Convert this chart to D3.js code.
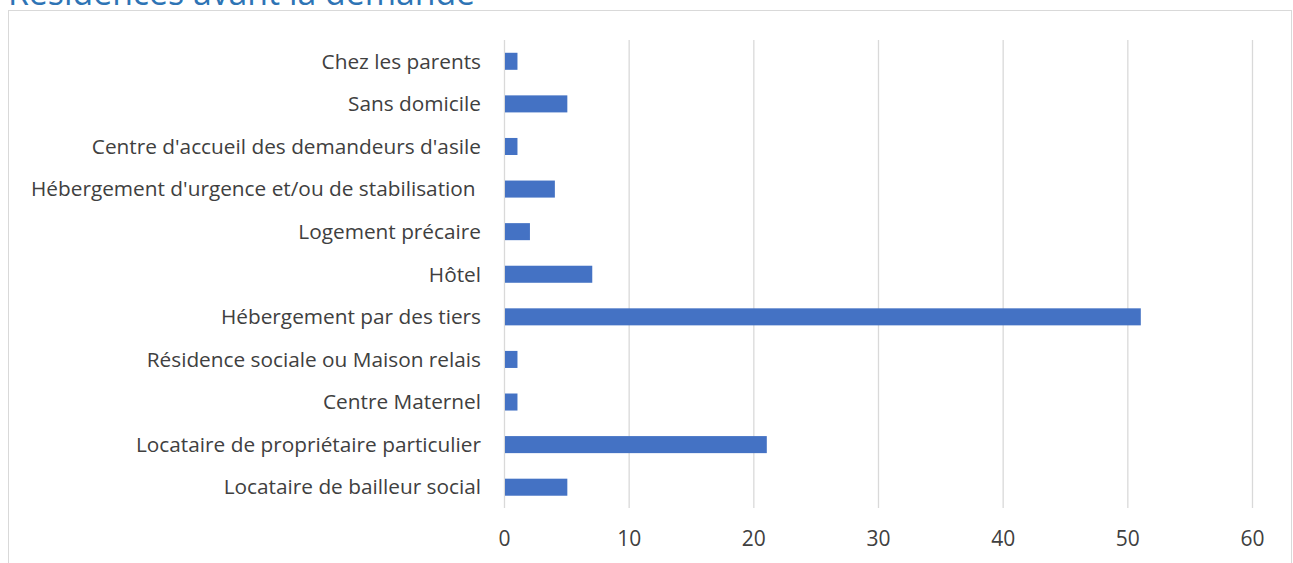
<!DOCTYPE html>
<html>
<head>
<meta charset="utf-8">
<script src="https://cdn.jsdelivr.net/npm/d3@7"></script>
<style>
  html, body { margin: 0; padding: 0; background: #fff; }
  svg { display: block; }
  text { font-family: "Open Sans", "Liberation Sans", sans-serif; white-space: pre; }
</style>
</head>
<body>
<svg id="chart" width="1293" height="563"></svg>
<script>
const categories = [
  "Chez les parents",
  "Sans domicile",
  "Centre d'accueil des demandeurs d'asile",
  "Hébergement d'urgence et/ou de stabilisation ",
  "Logement précaire",
  "Hôtel",
  "Hébergement par des tiers",
  "Résidence sociale ou Maison relais",
  "Centre Maternel",
  "Locataire de propriétaire particulier",
  "Locataire de bailleur social"
];
const values = [1, 5, 1, 4, 2, 7, 51, 1, 1, 21, 5];
const tickValues = [0, 10, 20, 30, 40, 50, 60];
const title = "Résidences avant la demande";

const svg = d3.select("#chart");

// chart border
svg.append("rect")
  .attr("x", 8.5).attr("y", 10.5)
  .attr("width", 1283).attr("height", 600)
  .attr("fill", "#fff")
  .attr("stroke", "#d9d9d9").attr("stroke-width", 1);

// title (cut off at top, as in the reference)
svg.append("text")
  .attr("x", 8).attr("y", 4.5)
  .attr("font-size", 33.8)
  .attr("fill", "#2E74B5")
  .text(title);

const x = d3.scaleLinear().domain([0, 60]).range([504, 1252]);
const y = d3.scaleBand().domain(categories).range([40, 508.5]).paddingInner(0.6).paddingOuter(0.3);

// gridlines
svg.append("g")
  .selectAll("line")
  .data(tickValues)
  .join("line")
  .attr("x1", d => x(d) + 0.5).attr("x2", d => x(d) + 0.5)
  .attr("y1", 40).attr("y2", 508)
  .attr("stroke", "#d9d9d9").attr("stroke-width", 1.3);

// x axis labels
const xAxis = d3.axisBottom(x).tickValues(tickValues).tickSize(0).tickPadding(0);
const gx = svg.append("g").attr("transform", "translate(0,539)").call(xAxis);
gx.select(".domain").remove();
gx.selectAll("text")
  .attr("font-size", 21)
  .attr("fill", "#404040")
  .attr("dy", "0.35em")
  .attr("y", 0);

// bars
svg.append("g")
  .selectAll("rect")
  .data(values)
  .join("rect")
  .attr("x", x(0) + 1)
  .attr("y", (d, i) => y(categories[i]))
  .attr("width", d => x(d) - x(0))
  .attr("height", y.bandwidth())
  .attr("fill", "#4472C4");

// y labels
const yAxis = d3.axisLeft(y).tickSize(0).tickPadding(0);
const gy = svg.append("g").attr("transform", "translate(481,0)").call(yAxis);
gy.select(".domain").remove();
gy.selectAll("text")
  .attr("font-size", 20.8)
  .attr("fill", "#404040")
  .attr("x", 0)
  .attr("dy", "0.35em")
  .attr("xml:space", "preserve");
</script>
</body>
</html>
